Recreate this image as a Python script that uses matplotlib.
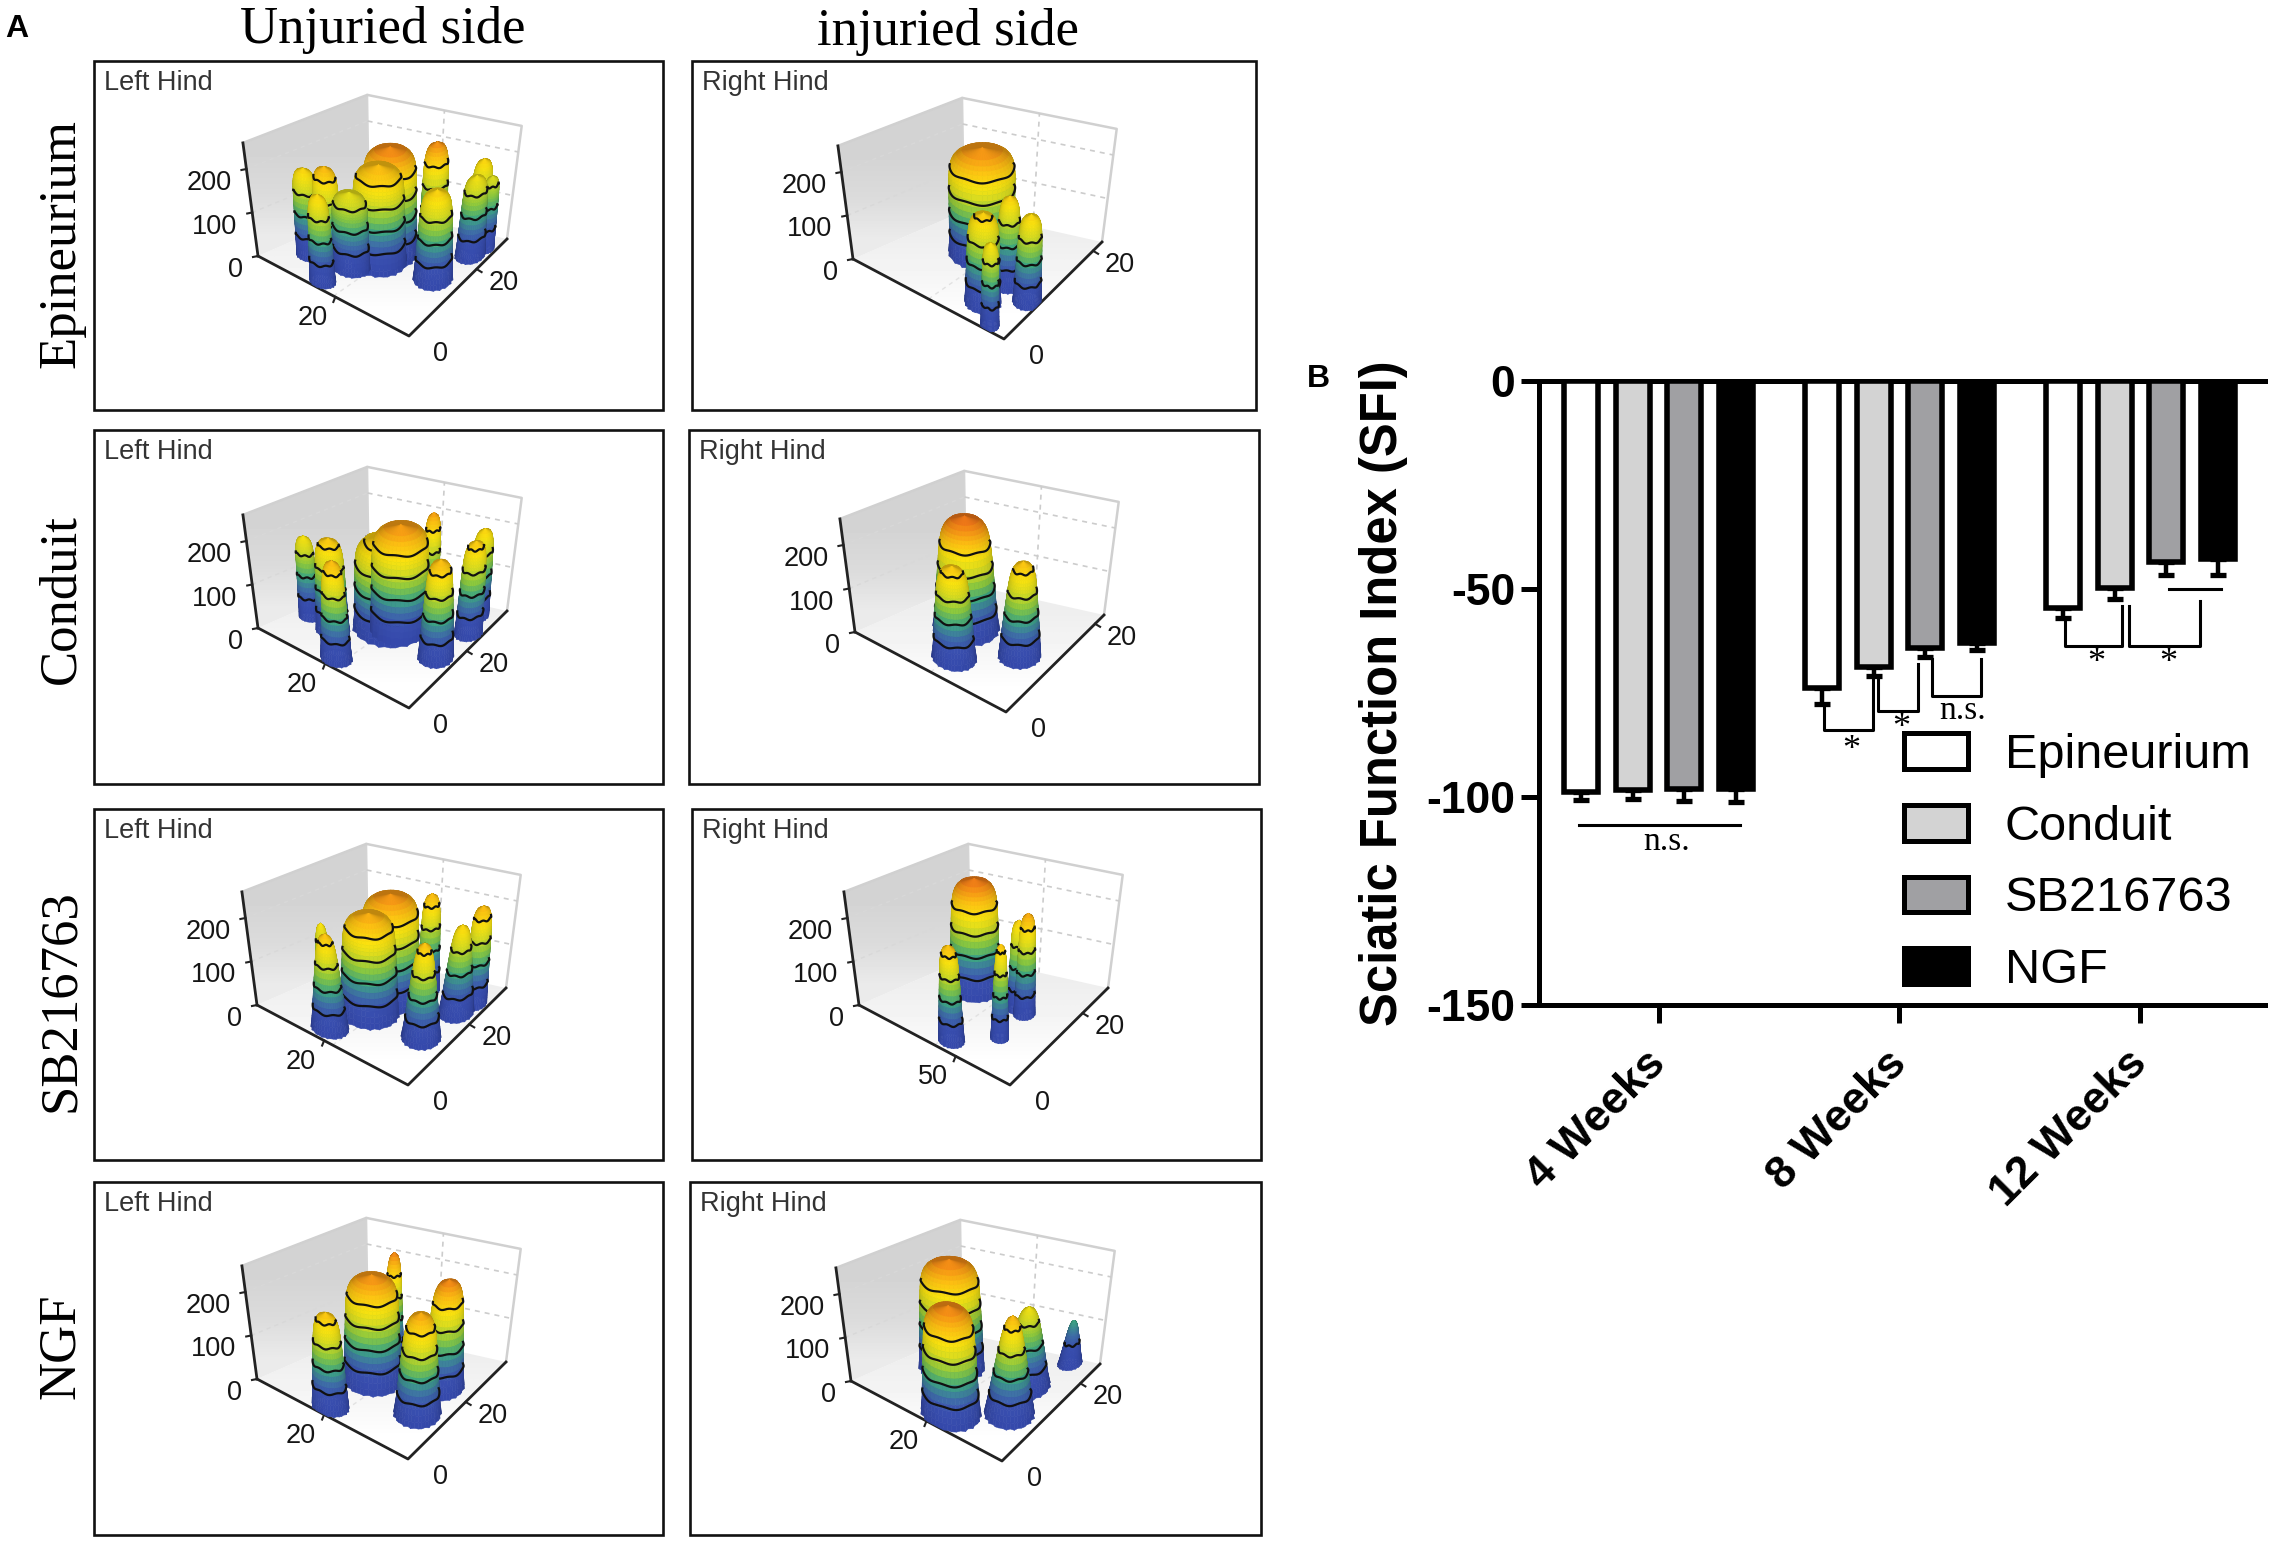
import numpy as np
from matplotlib import pyplot as plt
from matplotlib.collections import PolyCollection
from matplotlib.colors import LinearSegmentedColormap
from matplotlib.patches import Patch, Polygon

# bar chart data
groups = ['4 Weeks', '8 Weeks', '12 Weeks']
treatments = ['Epineurium', 'Conduit', 'SB216763', 'NGF']
bar_colors = ['white', '#d3d3d3', '#a0a0a3', 'black']
sfi_mean = [[-98.7, -98.3, -98.0, -98.0],
            [-73.8, -68.8, -64.2, -63.1],
            [-54.5, -49.7, -43.5, -42.9]]
sfi_err = [[2.0, 2.2, 2.9, 3.2],
           [3.8, 2.0, 2.2, 1.6],
           [2.5, 2.7, 3.2, 3.8]]

# footprints: (u, v, height, radius, top ratio), u and v are fractions of the floor axes
epi_left = [(.83, .24, 202, .07, .8), (.70, .245, 225, .08, .75), (.59, .30, 175, .10, .9),
            (.51, .55, 250, .15, .9), (.51, .45, 225, .15, .85), (.35, .74, 246, .08, .75),
            (.13, .87, 202, .07, .7), (.11, .78, 184, .085, .7), (.065, .87, 168, .05, .8),
            (.62, .07, 200, .07, .7), (.167, .49, 205, .11, .7)]
epi_right = [(.55, .58, 245, .18, .95), (.245, .40, 205, .08, .6), (.07, .34, 200, .08, .7),
             (.26, .18, 207, .10, .75), (.12, .04, 190, .05, .8)]
con_left = [(.905, .34, 188, .055, .8), (.72, .305, 214, .09, .75), (.595, .52, 212, .06, .8),
            (.45, .56, 242, .16, .9), (.50, .54, 212, .20, .9), (.40, .78, 237, .05, .75),
            (.14, .89, 202, .07, .7), (.086, .73, 212, .08, .7), (.12, .45, 224, .10, .6),
            (.54, .086, 225, .085, .55)]
con_right = [(.61, .495, 262, .18, .65), (.48, .20, 213, .12, .6), (.21, .45, 217, .12, .5)]
sb_left = [(.76, .30, 191, .05, .5), (.53, .59, 245, .16, .9), (.53, .40, 232, .16, .8),
           (.41, .79, 225, .065, .65), (.60, .12, 218, .10, .4), (.086, .80, 225, .07, .7),
           (.13, .68, 202, .10, .4), (.165, .38, 218, .11, .35)]
sb_right = [(.675, .63, 258, .14, .8), (.36, .59, 205, .05, .7), (.29, .57, 233, .06, .6),
            (.27, .30, 216, .05, .5), (.456, .10, 220, .07, .6)]
ngf_left = [(.61, .73, 250, .06, .5), (.56, .47, 245, .16, .8), (.19, .63, 250, .12, .6),
            (.575, .09, 216, .10, .6), (.17, .35, 233, .13, .55)]
ngf_right = [(.73, .56, 250, .18, .8), (.175, .94, 100, .07, .25), (.27, .63, 183, .14, .3),
             (.44, .15, 250, .16, .75), (.19, .36, 226, .14, .25)]
all_peaks = [epi_left, epi_right, con_left, con_right, sb_left, sb_right, ngf_left, ngf_right]

# floor axis ranges and the labelled x tick of each panel
x_max = [41, 36, 36, 36, 36, 139, 36, 40]
y_max = [29, 22, 34, 22, 32, 27, 34, 25]
x_label = [20, None, 20, None, 20, 50, 20, 20]
hind_names = ['Left Hind', 'Right Hind'] * 4
row_names = ['Epineurium', 'Conduit', 'SB216763', 'NGF']
contour_levels = [50, 100, 150, 200]

# layout in image pixels
W, H = 2269, 1542
boxes = [(94, 61, 663, 410), (692, 61, 1256, 410),
         (94, 430, 663, 784), (689, 430, 1259, 784),
         (94, 809, 663, 1160), (692, 809, 1261, 1160),
         (94, 1182, 663, 1535), (690, 1182, 1261, 1535)]
corners = [(409, 336), (1004, 339), (409, 708), (1006, 712),
           (408, 1085), (1010, 1085), (408, 1459), (1002, 1461)]
FL = np.array([-151., -80.])
FR = np.array([98., -97.])
FB = np.array([-40., -128.])
Z_SCALE = 0.435
Z_TOP = 260

surface = LinearSegmentedColormap.from_list('surface', [
    (0, '#3448ab'), (.17, '#3a50b0'), (.26, '#3f6fa8'), (.37, '#3da882'), (.48, '#8cc93e'),
    (.60, '#d8dc20'), (.70, '#fbe30f'), (.82, '#fdc012'), (.92, '#f58a16'), (1, '#e8601a')])

plt.rcParams['font.family'] = ['Liberation Sans', 'DejaVu Sans']


def project(u, v, z, corner):
    twist = FB - FL - FR
    fx = corner[0] + FL[0] * u + FR[0] * v + twist[0] * u * v
    fy = corner[1] + FL[1] * u + FR[1] * v + twist[1] * u * v
    lean = (fx - (corner[0] - 25)) * 0.00046 * z
    return fx + lean, fy - z * Z_SCALE


def gradient_poly(ax, pts, values, vertical=True):
    pts = np.array(pts)
    grad = np.array(values)[:, None] if vertical else np.array(values)[None, :]
    x0, x1 = pts[:, 0].min(), pts[:, 0].max()
    y0, y1 = pts[:, 1].min(), pts[:, 1].max()
    im = ax.imshow(grad, cmap='gray', vmin=0, vmax=1, extent=(x0, x1, y1, y0),
                   aspect='auto', zorder=2, interpolation='bilinear')
    im.set_clip_path(Polygon(pts, transform=ax.transData))


def draw_walls(ax, c):
    a = project(1, 0, 0, c)
    b = project(0, 1, 0, c)
    back = project(1, 1, 0, c)
    a_top = project(1, 0, Z_TOP, c)
    b_top = project(0, 1, Z_TOP, c)
    back_top = project(1, 1, Z_TOP, c)
    gradient_poly(ax, [c, a, back, b], [.93, .96, 1.0])
    gradient_poly(ax, [a, back, back_top, a_top], [.83, .83, .86, .92])
    ax.plot(*zip(back, back_top), color='#d4d4d4', lw=1.5, zorder=3)
    ax.plot(*zip(a_top, back_top, b_top, b), color='#d0d0d0', lw=1.8, zorder=3)
    for z in (100, 200):
        ax.plot(*zip(project(1, 1, z, c), project(0, 1, z, c)), color='#cccccc', lw=1.2, ls=(0, (3, 3)), zorder=3)
        ax.plot(*zip(project(1, 0, z, c), project(1, 1, z, c)), color='#d8d8d8', lw=1, ls=(0, (3, 3)), zorder=3)
    ax.plot(*zip(project(.5, 1, 0, c), project(.5, 1, Z_TOP, c)), color='#cccccc', lw=1.2, ls=(0, (3, 3)), zorder=3)
    ax.plot(*zip(project(.5, 0, 0, c), project(.5, 1, 0, c)), color='#e2e2e2', lw=1, ls=(0, (3, 3)), zorder=3)


def draw_axes_lines(ax, c, i):
    a = project(1, 0, 0, c)
    b = project(0, 1, 0, c)
    a_top = project(1, 0, Z_TOP, c)
    ax.plot(*zip(a, c, b), color='#222222', lw=2, zorder=4)
    ax.plot(*zip(a, a_top), color='#222222', lw=2, zorder=4)
    style = dict(fontsize=19.5, color='#151515', zorder=900)
    for z in (0, 100, 200):
        px, py = project(1, 0, z, c)
        ax.plot([px, px - 5], [py, py + 1], color='#222222', lw=1.5, zorder=4)
        ax.text(px - 15, py + 14, str(z), ha='right', va='center', **style)
    ax.text(c[0] + 32, c[1] + 18, '0', ha='center', va='center', **style)
    if x_label[i] is not None:
        px, py = project(x_label[i] / x_max[i], 0, 0, c)
        ax.plot([px, px - 2], [py, py + 5], color='#222222', lw=1.5, zorder=4)
        ax.text(px - 23, py + 21, str(x_label[i]), ha='center', va='center', **style)
    px, py = project(0, 20 / y_max[i], 0, c)
    ax.plot([px, px + 5], [py, py + 3], color='#222222', lw=1.5, zorder=4)
    ax.text(px + 27, py + 14, '20', ha='center', va='center', **style)


def draw_peak(ax, peak, c, zorder, phase):
    cu, cv, height, radius, top = peak
    theta = np.linspace(0, 2 * np.pi, 41)
    t = np.concatenate([np.linspace(0, .7, 13), np.linspace(.74, 1, 9)])
    tt, th = np.meshgrid(t, theta)
    prof = (1 - (1 - top) * tt) * np.sqrt(np.clip(1 - tt ** 14, 0, 1))
    jag = 1 + .05 * np.sin(23 * th + phase) * np.clip(1 - tt / .15, 0, 1)
    u = np.clip(cu + radius * prof * jag * np.cos(th), 0, 1)
    v = np.clip(cv + radius * prof * jag * np.sin(th), 0, 1)
    z = height * tt
    px, py = project(u, v, z, c)
    floor_y = project(u, v, 0, c)[1]
    front = np.arctan2(-97 * .8, -80 * .8)
    light = .76 + .24 * np.clip(np.cos(th - front), 0, 1) ** .7

    polys, cols, depth = [], [], []
    for i in range(px.shape[0] - 1):
        for j in range(px.shape[1] - 1):
            polys.append([(px[i, j], py[i, j]), (px[i + 1, j], py[i + 1, j]),
                          (px[i + 1, j + 1], py[i + 1, j + 1]), (px[i, j + 1], py[i, j + 1])])
            rgba = np.array(surface(min(z[i, j:j + 2].mean() / 270, 1)))
            rgba[:3] *= light[i, j]
            cols.append(rgba)
            depth.append(floor_y[i, j])
    order = np.argsort(depth)
    pc = PolyCollection([polys[k] for k in order], facecolors=[cols[k] for k in order],
                        edgecolors='face', linewidths=.4, zorder=zorder)
    ax.add_collection(pc)

    th_line = np.linspace(front - 1.75, front + 1.75, 60)
    for level in contour_levels:
        if level >= height * .97:
            continue
        s = level / height
        r_line = (1 - (1 - top) * s) * np.sqrt(1 - s ** 14) * radius
        lu = np.clip(cu + r_line * np.cos(th_line), 0, 1)
        lv = np.clip(cv + r_line * np.sin(th_line), 0, 1)
        lz = level + 2 * np.sin(6 * th_line + phase + level)
        lx, ly = project(lu, lv, lz, c)
        ax.plot(lx, ly, color='#111111', lw=1.6, zorder=zorder + .5)


fig = plt.figure(figsize=(W / 100, H / 100), dpi=100)
canvas = fig.add_axes([0, 0, 1, 1])

for i, (box, c, peaks) in enumerate(zip(boxes, corners, all_peaks)):
    canvas.add_patch(plt.Rectangle((box[0], box[1]), box[2] - box[0], box[3] - box[1], fc='white',
                                   ec='#111111', lw=1.9, zorder=1))
    draw_walls(canvas, c)
    draw_axes_lines(canvas, c, i)
    canvas.text(box[0] + 10, box[1] + 22, hind_names[i], fontsize=19.5, color='#333333', va='center', zorder=900)
    ordered = sorted(peaks, key=lambda p: project(p[0], p[1], 0, c)[1])
    for k, peak in enumerate(ordered):
        draw_peak(canvas, peak, c, 10 + k, phase=k * 1.7)

canvas.text(383, 30, 'Unjuried side', family='Liberation Serif', fontsize=38, ha='center', va='center')
canvas.text(948, 32, 'injuried side', family='Liberation Serif', fontsize=38, ha='center', va='center')
for name, yc in zip(row_names, [243, 599, 1001, 1346]):
    canvas.text(61, yc, name, family='Liberation Serif', fontsize=38, rotation=90, ha='center', va='center')
canvas.text(17, 29, 'A', fontsize=23, fontweight='bold', ha='center', va='center')
canvas.text(1318, 379, 'B', fontsize=23, fontweight='bold', ha='center', va='center')
canvas.set_xlim(0, W)
canvas.set_ylim(H, 0)
canvas.axis('off')

# panel B
ax = fig.add_axes([1539 / W, 1 - 1005 / H, 726 / W, 624 / H])
step = 0.2137
for j, name in enumerate(treatments):
    xs = [g + step * (j - 1.5) for g in range(len(groups))]
    means = [row[j] for row in sfi_mean]
    errs = [row[j] for row in sfi_err]
    ax.bar(xs, means, width=.142, color=bar_colors[j], edgecolor='black', linewidth=4, zorder=3)
    ax.errorbar(xs, means, yerr=[errs, [0] * 3], fmt='none', ecolor='black', elinewidth=3.2,
                capsize=6, capthick=3.8, zorder=2)

ax.set_xlim(-.496, 2.517)
ax.set_ylim(-150, 0)
ax.set_yticks([0, -50, -100, -150])
ax.set_yticklabels(['0', '-50', '-100', '-150'], fontsize=32, fontweight='bold')
ax.set_xticks(range(3))
ax.set_xticklabels([])
for g, name in enumerate(groups):
    ax.annotate(name, xy=(g, 0), xycoords=('data', 'axes fraction'), xytext=(-14, -38), textcoords='offset pixels',
                fontsize=32, fontweight='bold', rotation=45, ha='right', va='top', rotation_mode='anchor')
ax.tick_params(axis='y', length=13, width=3.6, pad=4)
ax.tick_params(axis='x', length=13, width=3.6)
ax.spines['right'].set_visible(False)
for side in ('left', 'top', 'bottom'):
    ax.spines[side].set_linewidth(3.6)
ax.set_ylabel('Sciatic Function Index (SFI)', fontsize=36.5, fontweight='bold', labelpad=13)

# significance marks
brackets = [([.687, .687, .89, .89], [-77.6, -84, -84, -71.7]),
            ([.91, .91, 1.077, 1.077], [-71.7, -79.4, -79.4, -68.1]),
            ([1.135, 1.135, 1.339, 1.339], [-66.8, -75.8, -75.8, -66.8]),
            ([1.687, 1.687, 1.925, 1.925], [-57.2, -63.6, -63.6, -54.2]),
            ([1.952, 1.952, 2.247, 2.247], [-54.2, -63.6, -63.6, -52.9]),
            ([-.33, .338], [-106.8, -106.8]),
            ([2.12, 2.335], [-49.9, -49.9])]
for bx, by in brackets:
    ax.plot(bx, by, color='black', lw=2.2, zorder=4, clip_on=False)
for sx, sy, label in [(.035, -110.8, 'n.s.'), (1.26, -79.2, 'n.s.')]:
    ax.text(sx, sy, label, family='Liberation Serif', fontsize=24, ha='center', va='center', zorder=5)
for sx, sy in [(.80, -88.8), (1.006, -83.6), (1.816, -67.8), (2.114, -67.8)]:
    ax.text(sx, sy, '*', family='Liberation Serif', fontsize=26, ha='center', va='center', zorder=5)

handles = [Patch(facecolor=col, edgecolor='black', linewidth=3.6, label=name)
           for col, name in zip(bar_colors, treatments)]
ax.legend(handles=handles, loc='upper left', bbox_to_anchor=((1904 - 1539) / 726, 1 - (733 - 381) / 624),
          frameon=False, fontsize=35, handlelength=1.32, handleheight=.75, labelspacing=.55,
          handletextpad=.75, borderpad=0, borderaxespad=0)

fig.savefig('out.png', dpi=100)
